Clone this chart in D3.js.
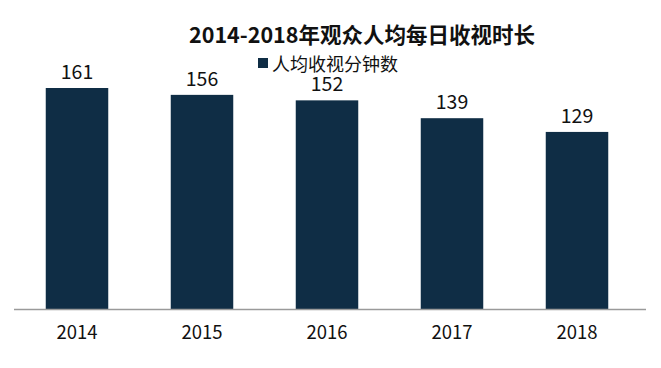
<!DOCTYPE html>
<html><head><meta charset="utf-8">
<script src="https://cdn.jsdelivr.net/npm/d3@7"></script>
<style>body{margin:0;background:#fff}</style>
</head><body><svg id="c" width="661" height="368"></svg>
<script>
const years = ["2014","2015","2016","2017","2018"];
const minutes = [161,156,152,139,129];
const title = "2014-2018年观众人均每日收视时长";
const seriesName = "人均收视分钟数";

const svg = d3.select("#c");
const font = "'Noto Sans CJK SC','Noto Sans',sans-serif";
const color = "#0f2d45";
const baseY = 309;
const x = d3.scaleBand().domain(years).range([14.5, 639.5]).paddingInner(0.5).paddingOuter(0.25);
const y = d3.scaleLinear().domain([0, 161]).range([baseY, 88]);

svg.append("text").attr("x", 362).attr("y", 43).attr("text-anchor","middle")
  .attr("font-family", font).attr("font-weight","bold").attr("font-size", 21.5).attr("fill","#111").text(title);

svg.append("rect").attr("x",258).attr("y",58).attr("width",10).attr("height",10).attr("fill",color);
svg.append("text").attr("x",272).attr("y",71).attr("font-family",font).attr("font-size",18).attr("fill","#111").text(seriesName);

svg.selectAll("rect.bar").data(years).join("rect").attr("class","bar")
  .attr("x", d=>x(d)).attr("width", x.bandwidth())
  .attr("y", (d,i)=>y(minutes[i])).attr("height", (d,i)=>baseY - y(minutes[i]))
  .attr("fill", color);

svg.selectAll("text.val").data(years).join("text").attr("class","val")
  .attr("x", d=>x(d)+x.bandwidth()/2).attr("y", (d,i)=>y(minutes[i]) - 9)
  .attr("text-anchor","middle").attr("font-family",font).attr("font-size",19.5).attr("fill","#111")
  .text((d,i)=>minutes[i]);

const ax = svg.append("g").attr("transform",`translate(0,${baseY})`)
  .call(d3.axisBottom(x).tickSize(0).tickPadding(17));
ax.select(".domain").attr("d","M14,0.5H646").attr("stroke","#9a9a9a").attr("stroke-width",1.5);
ax.selectAll("text").attr("font-family",font).attr("font-size",18.5).attr("fill","#111");
</script></body></html>
